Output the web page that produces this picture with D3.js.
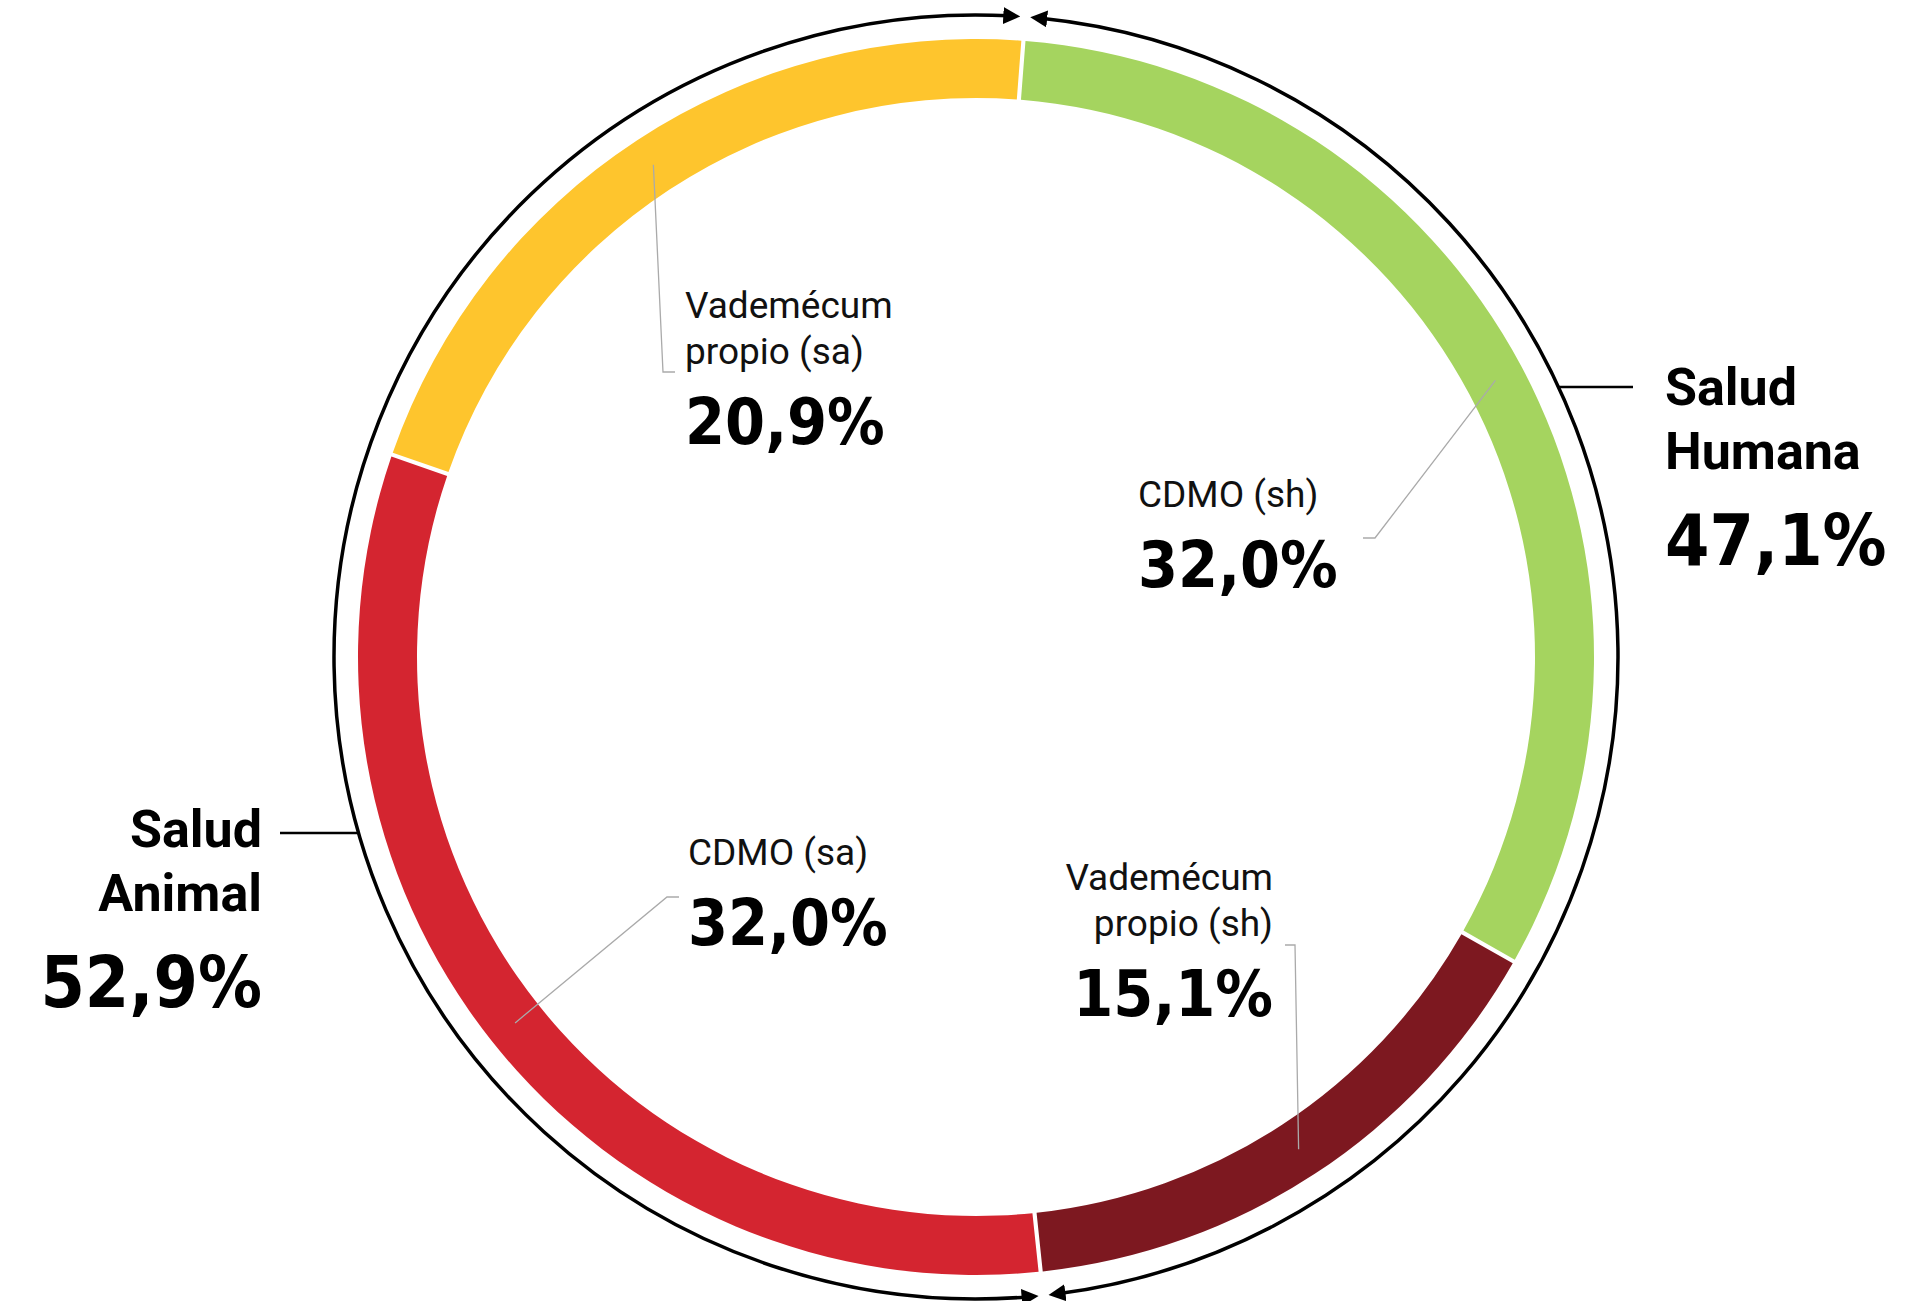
<!DOCTYPE html>
<html>
<head>
<meta charset="utf-8">
<script src="https://cdn.jsdelivr.net/npm/d3@7"></script>
<style>
  html, body { margin: 0; padding: 0; background: #fff; }
  svg { display: block; }
  .segName { font-family: Roboto, "Noto Sans", sans-serif; font-size: 37px; fill: #111; }
  .groupName { font-family: Roboto, "Noto Sans", sans-serif; font-weight: 700; font-size: 52px; fill: #000; }
  .pct { font-family: "DejaVu Sans Condensed", "DejaVu Sans", sans-serif; font-stretch: condensed; font-weight: 700; fill: #000; }
</style>
</head>
<body>
<div id="wrapper"></div>
<script>

// 1. Data
const segNames = ["CDMO (sh)", "Vademécum propio (sh)", "CDMO (sa)", "Vademécum propio (sa)"]
const segValues = [32.0, 15.1, 32.0, 20.9]
const segColors = ["#a5d45f", "#7d1820", "#d42530", "#fec52d"]

const groupNames = ["Salud Humana", "Salud Animal"]
const groupValues = [47.1, 52.9]

const fmt = v => d3.format(".1f")(v).replace(".", ",") + "%"

// 2. Dimensions
let dimensions = {
    width: 1926,
    height: 1301,
    cx: 976,
    cy: 657,
    innerRadius: 559,
    outerRadius: 618,
    ringRadius: 642,
}
const startAngle = 4.4 * Math.PI / 180

// label layout (relative to center)
const segLabelLayout = {
    "CDMO (sh)":             {x: 162,  y: -150, anchor: "start", elbow: [399, -119], end: [387, -119]},
    "Vademécum propio (sh)": {x: 297,  y: 233,  anchor: "end",   elbow: [319, 288],  end: [309, 288]},
    "CDMO (sa)":             {x: -288, y: 208,  anchor: "start", elbow: [-309, 240], end: [-297, 240]},
    "Vademécum propio (sa)": {x: -291, y: -339, anchor: "start", elbow: [-313, -285], end: [-301, -285]},
}
const groupLabelLayout = {
    "Salud Humana": {x: 689,  y: -252, anchor: "start", lineY: -270, lineEnd: 657},
    "Salud Animal": {x: -714, y: 190,  anchor: "end",   lineY: 176,  lineEnd: -696},
}

const svg = d3.select("#wrapper")
    .append("svg")
    .attr("width", dimensions.width)
    .attr("height", dimensions.height)

const bounds = svg.append("g")
    .attr("transform", `translate(${dimensions.cx},${dimensions.cy})`)

// 3. Donut
const pie = d3.pie()
    .sort(null)
    .value(d => d.value)
    .startAngle(startAngle)
    .endAngle(startAngle + 2 * Math.PI)
    .padAngle(0.005)

const segData = pie(segNames.map((n, i) => ({name: n, value: segValues[i], color: segColors[i]})))

const arc = d3.arc()
    .innerRadius(dimensions.innerRadius)
    .outerRadius(dimensions.outerRadius)

bounds.append("g")
    .selectAll("path")
    .data(segData)
    .join("path")
    .attr("d", arc)
    .attr("fill", d => d.data.color)

// leader lines from the middle of each segment
const midRadius = (dimensions.innerRadius + dimensions.outerRadius) / 2
const midArc = d3.arc().innerRadius(midRadius).outerRadius(midRadius)

bounds.append("g")
    .selectAll("polyline")
    .data(segData)
    .join("polyline")
    .attr("points", d => {
        const l = segLabelLayout[d.data.name]
        return [midArc.centroid(d), l.elbow, l.end].map(p => p.join(",")).join(" ")
    })
    .attr("fill", "none")
    .attr("stroke", "#aaa")
    .attr("stroke-width", 1.3)

const segLabels = bounds.append("g")
    .selectAll("g")
    .data(segData)
    .join("g")
    .attr("transform", d => `translate(${segLabelLayout[d.data.name].x},${segLabelLayout[d.data.name].y})`)
    .attr("text-anchor", d => segLabelLayout[d.data.name].anchor)

segLabels.each(function(d) {
    const g = d3.select(this)
    const words = d.data.name.startsWith("Vademécum")
        ? ["Vademécum", d.data.name.replace("Vademécum ", "")]
        : [d.data.name]
    words.forEach((w, i) => {
        g.append("text").attr("class", "segName").attr("y", i * 46).text(w)
    })
    g.append("text")
        .attr("class", "pct")
        .attr("font-size", 64)
        .attr("y", (words.length - 1) * 46 + 80)
        .text(fmt(d.data.value))
})

// 4. Outer ring with arrows for the two groups
const defs = svg.append("defs")
defs.append("marker")
    .attr("id", "arrow")
    .attr("viewBox", "0 0 17 17")
    .attr("refX", 6)
    .attr("refY", 8.5)
    .attr("markerWidth", 17)
    .attr("markerHeight", 17)
    .attr("markerUnits", "userSpaceOnUse")
    .attr("orient", "auto-start-reverse")
    .append("path")
    .attr("d", "M0,0 L17,8.5 L0,17 Z")
    .attr("fill", "#000")

const groupPie = d3.pie()
    .sort(null)
    .startAngle(startAngle)
    .endAngle(startAngle + 2 * Math.PI)

const groupData = groupPie(groupValues)
const R = dimensions.ringRadius
const tipGap = 5 / R
const headLen = 11 / R

const ringPath = d => {
    const a0 = d.startAngle + tipGap + headLen
    const a1 = d.endAngle - tipGap - headLen
    const p = d3.path()
    p.moveTo(R * Math.sin(a0), -R * Math.cos(a0))
    p.arc(0, 0, R, a0 - Math.PI / 2, a1 - Math.PI / 2, false)
    return p.toString()
}

bounds.append("g")
    .selectAll("path")
    .data(groupData)
    .join("path")
    .attr("d", ringPath)
    .attr("fill", "none")
    .attr("stroke", "#000")
    .attr("stroke-width", 3.5)
    .attr("marker-start", "url(#arrow)")
    .attr("marker-end", "url(#arrow)")

// group labels
groupData.forEach((d, i) => {
    const name = groupNames[i]
    const l = groupLabelLayout[name]
    const yy = l.lineY
    const xOnRing = Math.sign(l.lineEnd) * Math.sqrt(R * R - yy * yy)

    bounds.append("line")
        .attr("x1", xOnRing)
        .attr("x2", l.lineEnd)
        .attr("y1", yy)
        .attr("y2", yy)
        .attr("stroke", "#000")
        .attr("stroke-width", 2.5)

    const g = bounds.append("g")
        .attr("transform", `translate(${l.x},${l.y})`)
        .attr("text-anchor", l.anchor)

    name.split(" ").forEach((w, j) => {
        g.append("text").attr("class", "groupName").attr("y", j * 64).text(w)
    })
    g.append("text")
        .attr("class", "pct")
        .attr("font-size", 71)
        .attr("y", 160)
        .text(fmt(d.data))
})

</script>
</body>
</html>
